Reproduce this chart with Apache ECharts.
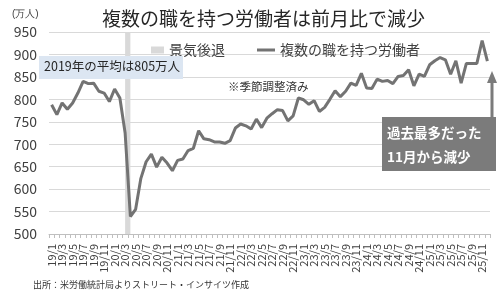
<!DOCTYPE html>
<html><head><meta charset="utf-8">
<script src="https://cdn.jsdelivr.net/npm/echarts@6/dist/echarts.min.js"></script>
<style>html,body{margin:0;padding:0;background:#fff}#c{width:500px;height:296px}</style>
</head><body><div id="c"></div>
<script>
const categories = [
"19/1","19/2","19/3","19/4","19/5","19/6","19/7","19/8","19/9","19/10","19/11","19/12",
"20/1","20/2","20/3","20/4","20/5","20/6","20/7","20/8","20/9","20/10","20/11","20/12",
"21/1","21/2","21/3","21/4","21/5","21/6","21/7","21/8","21/9","21/10","21/11","21/12",
"22/1","22/2","22/3","22/4","22/5","22/6","22/7","22/8","22/9","22/10","22/11","22/12",
"23/1","23/2","23/3","23/4","23/5","23/6","23/7","23/8","23/9","23/10","23/11","23/12",
"24/1","24/2","24/3","24/4","24/5","24/6","24/7","24/8","24/9","24/10","24/11","24/12",
"25/1","25/2","25/3","25/4","25/5","25/6","25/7","25/8","25/9","25/10","25/11","25/12"];
const multipleJobholders = [
788,766,792,778,792,814,840,835,836,818,814,795,
823,803,725,539,555,624,661,678,649,671,658,641,
664,667,686,691,730,712,710,705,705,702,708,736,
745,741,734,756,737,758,768,777,775,752,763,803,
799,789,797,773,782,800,819,806,818,836,831,858,
825,824,845,840,842,835,851,853,866,830,856,851,
877,886,893,888,856,886,836,880,880,880,931,885];
const recession = ["20/3","20/4"];
const yTicks = {min:500, max:950, interval:50};
const seriesNames = ["景気後退","複数の職を持つ労働者"];
const titleText = "複数の職を持つ労働者は前月比で減少";
const unitText = "(万人)";
const avgNote = "2019年の平均は805万人";
const saNote = "※季節調整済み";
const calloutLines = ["過去最多だった","11月から減少"];
const sourceText = "出所：米労働統計局よりストリート・インサイツ作成";

const FF = '"Noto Sans CJK JP", "Noto Sans", sans-serif';
const chart = echarts.init(document.getElementById('c'), null, {renderer:'canvas'});
chart.setOption({
  animation:false,
  textStyle:{fontFamily:FF},
  title:{text:titleText, left:97, top:4, textStyle:{fontSize:19, fontWeight:'normal', color:'#262626', fontFamily:FF}},
  legend:[
    {data:[{name:seriesNames[0], icon:'rect'}], left:146, top:38, itemWidth:13, itemHeight:7, itemGap:5,
     textStyle:{fontSize:14, color:'#404040', fontFamily:FF}},
    {data:[{name:seriesNames[1], icon:'rect'}], left:252, top:38, itemWidth:18, itemHeight:3, itemGap:5,
     textStyle:{fontSize:14, color:'#404040', fontFamily:FF}}
  ],
  grid:{left:49, width:441, top:32, height:202, containLabel:false},
  xAxis:{type:'category', data:categories, boundaryGap:true,
    axisLine:{lineStyle:{color:'#bfbfbf', width:1}},
    axisTick:{show:true, interval:0, length:4, lineStyle:{color:'#bfbfbf'}},
    axisLabel:{interval:0, rotate:90, fontSize:11, color:'#404040', margin:10, fontFamily:FF,
      formatter:function(v, i){return i % 2 === 0 ? v : '';},
      showMinLabel:true, showMaxLabel:true, hideOverlap:false},
    splitLine:{show:false}},
  yAxis:{type:'value', min:yTicks.min, max:yTicks.max, interval:yTicks.interval,
    axisLine:{show:false}, axisTick:{show:false},
    axisLabel:{fontSize:14, color:'#404040', margin:12, fontFamily:FF},
    splitLine:{lineStyle:{color:'#d9d9d9', width:1}}},
  series:[
    {name:seriesNames[0], type:'line', data:[], symbol:'none', itemStyle:{color:'#d9d9d9'}, lineStyle:{color:'#d9d9d9'}},
    {name:seriesNames[1], type:'line', data:multipleJobholders, showSymbol:false, symbol:'none',
     lineStyle:{color:'#737373', width:3}, itemStyle:{color:'#737373'}, z:5,
     markArea:{silent:true, itemStyle:{color:'#d9d9d9'},
       data:[[{xAxis:recession[0]},{xAxis:recession[1]}]]}}
  ],
  graphic:[
    {type:'text', left:12, top:9, style:{text:unitText, fontSize:10, fill:'#404040', font:'10px '+FF}},
    {type:'rect', left:39, top:56, z:100, shape:{x:0,y:0,width:144,height:23}, style:{fill:'#dce6f2'}},
    {type:'text', left:44, top:60, z:101, style:{text:avgNote, font:'12.5px '+FF, fill:'#262626'}},
    {type:'text', left:228, top:81, z:100, style:{text:saNote, font:'11.5px '+FF, fill:'#333'}},
    {type:'group', left:382, top:71, z:100, children:[
      {type:'rect', z:100, shape:{x:0,y:46,width:114,height:54}, style:{fill:'#7b7b7b'}},
      {type:'line', z:100, shape:{x1:110,y1:11,x2:110,y2:46}, style:{stroke:'#7b7b7b', lineWidth:3}},
      {type:'polygon', z:100, shape:{points:[[105,12],[115,12],[110,0]]}, style:{fill:'#7b7b7b'}},
      {type:'text', z:101, x:5, y:62, style:{text:calloutLines[0], font:'bold 13.5px '+FF, fill:'#fff', textVerticalAlign:'middle'}},
      {type:'text', z:101, x:5, y:86, style:{text:calloutLines[1], font:'bold 13.5px '+FF, fill:'#fff', textVerticalAlign:'middle'}}
    ]},
    {type:'text', left:33, top:280, style:{text:sourceText, font:'9px '+FF, fill:'#333'}}
  ]
});
</script></body></html>
